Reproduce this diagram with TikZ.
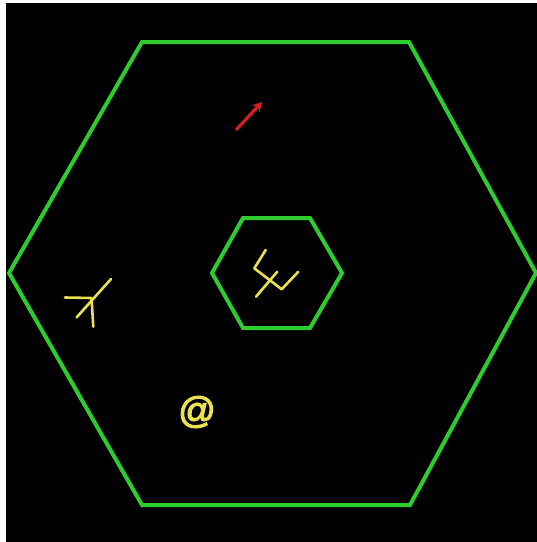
\documentclass[tikz,border=0pt]{standalone}
\usepackage{fontspec}
\setmainfont{Liberation Sans}
\newfontfamily\atfont[FakeBold=3]{Liberation Sans}
\usetikzlibrary{arrows.meta}
\definecolor{hexgreen}{RGB}{45,205,45}
\definecolor{symyellow}{RGB}{235,225,80}
\definecolor{arrred}{RGB}{215,30,30}
\tikzset{
  hexline/.style={draw=hexgreen, line width=4pt, line join=miter},
  glyph/.style={draw=symyellow, line width=2.6pt, line cap=round, line join=round},
}
\begin{document}
\begin{tikzpicture}[x=1pt,y=-1pt]
\useasboundingbox (0,0) rectangle (537,542);
\fill[white] (0,0) rectangle (537,542);
\fill[black] (6,3) rectangle (537,542);
% outer hexagon
\coordinate (o1) at (142,42);
\coordinate (o2) at (409,42);
\coordinate (o3) at (536,273);
\coordinate (o4) at (410,505);
\coordinate (o5) at (142,505);
\coordinate (o6) at (9,273);
\draw[hexline] (o1) -- (o2) -- (o3) -- (o4) -- (o5) -- (o6) -- cycle;
% inner hexagon
\coordinate (i1) at (243,218);
\coordinate (i2) at (310,218);
\coordinate (i3) at (342,273);
\coordinate (i4) at (310,328);
\coordinate (i5) at (243,328);
\coordinate (i6) at (212,273);
\draw[hexline] (i1) -- (i2) -- (i3) -- (i4) -- (i5) -- (i6) -- cycle;
% central glyph
\coordinate (gA) at (265.7,250);
\coordinate (gB) at (254.3,268.3);
\coordinate (gC) at (281.7,289.3);
\coordinate (gD) at (298.3,271.7);
\coordinate (gE) at (277.3,271.7);
\coordinate (gF) at (256,296.7);
\draw[glyph] (gA) -- (gB) -- (gC) -- (gD);
\draw[glyph] (gE) -- (gF);
% left glyph
\coordinate (yA) at (65,297.5);
\coordinate (yB) at (91.5,298);
\coordinate (yC) at (111,279);
\coordinate (yD) at (76.5,317.5);
\coordinate (yE) at (93.3,326.7);
\draw[glyph] (yA) -- (yB) -- (yE);
\draw[glyph] (yC) -- (yD);
% at sign
\node[text=symyellow, font=\atfont\fontsize{37}{42}\selectfont, inner sep=0pt] (at) at (197,412) {@};
% red arrow
\coordinate (rA) at (236,130);
\coordinate (rB) at (262,102);
\draw[arrred, line width=3.2pt, -{Stealth[length=9pt,width=10pt]}] (rA) -- (rB);
\end{tikzpicture}
\end{document}
